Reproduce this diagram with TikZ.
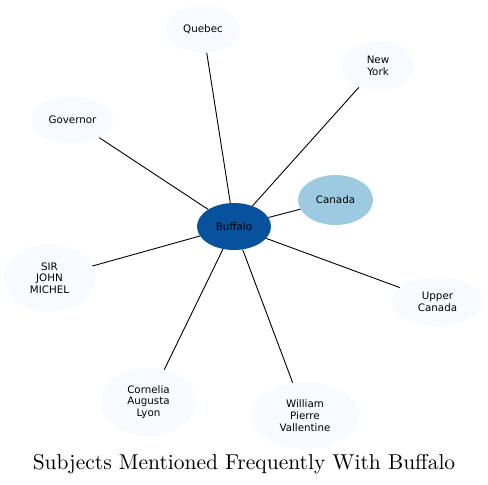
\documentclass[tikz,border=0pt]{standalone}
\usepackage{fontspec}
\newfontfamily\dvs{DejaVu Sans}
\usetikzlibrary{shapes.geometric}
\definecolor{hub}{HTML}{08519C}
\definecolor{mid}{HTML}{9ECAE1}
\definecolor{pale}{HTML}{F7FBFF}
\tikzset{
  ent/.style={ellipse, fill=pale, draw=none, inner sep=0pt, align=center,
    font=\dvs\fontsize{10.3}{11.7}\selectfont},
  link/.style={draw=black, line width=0.9pt},
}
\begin{document}
\begin{tikzpicture}[x=1pt,y=-1pt]
\useasboundingbox[fill=white] (0,0) rectangle (488,485);
\node[ent, fill=hub, minimum width=74pt, minimum height=47pt] (buf) at (234,226.5) {Buffalo};
\node[ent, fill=mid, minimum width=75pt, minimum height=50pt] (can) at (335.5,200) {Canada};
\node[ent, minimum width=74pt, minimum height=48pt] (que) at (203,29) {Quebec};
\node[ent, minimum width=72pt, minimum height=50pt] (ny) at (378,66) {New\\York};
\node[ent, minimum width=82pt, minimum height=46pt] (gov) at (72.5,120) {Governor};
\node[ent, minimum width=91pt, minimum height=68pt] (sir) at (49.5,278) {SIR\\JOHN\\MICHEL};
\node[ent, minimum width=91pt, minimum height=49pt] (uc) at (437.5,301.5) {Upper\\Canada};
\node[ent, minimum width=95pt, minimum height=68pt] (cor) at (148.5,402) {Cornelia\\Augusta\\Lyon};
\node[ent, minimum width=108pt, minimum height=67pt] (wil) at (305,415.5) {William\\Pierre\\Vallentine};
\foreach \t in {can,que,ny,gov,sir,uc,cor,wil} \draw[link] (buf) -- (\t);
\node[anchor=base, inner sep=0pt] (title) at (244,469) {\scalebox{2.15}{\fontsize{10}{12}\selectfont Subjects Mentioned Frequently With Buffalo}};
\end{tikzpicture}
\end{document}
